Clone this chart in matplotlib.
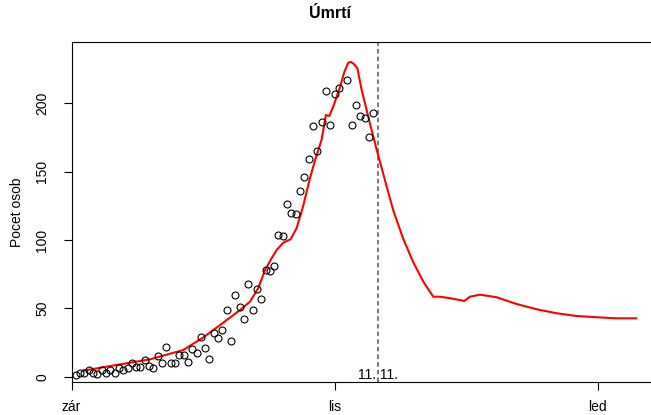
import numpy as np
import matplotlib
matplotlib.use("Agg")
import matplotlib.pyplot as plt

plt.rcParams['font.family'] = ['Liberation Sans', 'DejaVu Sans']

# dny od 1. 9. 2020
den = list(range(1, 71))
umrti = [1, 3, 3, 5, 3, 2, 5, 3, 5, 3, 6, 5, 6, 10, 7, 7, 12, 8, 6, 15,
         10, 22, 10, 10, 16, 16, 11, 20, 17, 29, 21, 13, 32, 28, 34, 49, 26, 60, 51, 42,
         68, 49, 64, 57, 78, 77, 81, 104, 103, 126, 120, 119, 136, 146, 159, 183, 165, 186, 209, 184,
         207, 211, np.nan, 217, 184, 199, 191, 189, 175, 193]

# model (cervena krivka)
model_den = [2.7, 10.5, 18.2, 25.9, 30.6, 35.2, 39.1, 41.4, 43.3, 44.9,
             46.4, 47.6, 49.1, 50.8, 52.2, 53.7, 55.3, 56.5, 58.0, 59.0,
             59.8, 60.7, 62.3, 63.3, 64.2, 64.8, 65.5, 66.3, 67.3, 69.2,
             70.8, 73.1, 74.6, 76.9, 79.2, 81.6, 83.9, 85.4, 87.8, 91.1,
             92.4, 94.7, 98.6, 103.2, 107.9, 112.5, 117.1, 121.8, 126.4, 131.0]
model = [4.4, 8.6, 12.7, 19.5, 28.8, 39.5, 48.8, 54.9, 64.7, 78.1,
         86.6, 92.7, 98.0, 100.5, 108.6, 124.4, 145.1, 158.5, 173.2, 191.4,
         190.7, 197.5, 212.1, 223.1, 229.7, 230.2, 228.7, 225.6, 209.7, 185.4,
         165.8, 139.0, 121.9, 101.2, 84.1, 69.5, 58.5, 58.5, 57.4, 55.4,
         58.5, 60.0, 58.1, 53.2, 49.3, 46.4, 44.4, 43.5, 42.7, 42.7]

mesic_pozice = [0, 61, 122]
mesic_popisky = ["zár", "lis", "led"]
den_hranice = 71  # 11. 11.

fig = plt.figure(figsize=(6.51, 4.15), dpi=100)
ax = fig.add_axes([71.5 / 651, (415 - 382.3) / 415, (651 - 71.5) / 651, (382.3 - 42) / 415])

ax.plot(model_den, model, color="red", linewidth=1.5, zorder=2)
ax.plot(den, umrti, linestyle="none", marker="o", markersize=5,
        markerfacecolor="none", markeredgecolor="black", markeredgewidth=0.8, zorder=3)
ax.axvline(den_hranice, color="#555555", linewidth=1.1, linestyle=(0, (3, 2)), zorder=1)
ax.text(den_hranice, -4.1, "11. 11.", ha="center", va="bottom", fontsize=10)

ax.set_xlim(0, 134.4)
ax.set_ylim(-4.1, 244.8)

ax.set_xticks(mesic_pozice)
ax.set_xticklabels(mesic_popisky)
ax.set_yticks([0, 50, 100, 150, 200])
ax.set_yticklabels(["0", "50", "100", "150", "200"], rotation=90, va="center")
ax.tick_params(axis="both", length=6, width=0.8, labelsize=10)
ax.tick_params(axis="x", pad=7)
ax.tick_params(axis="y", pad=10)

for s in ["left", "bottom", "top"]:
    ax.spines[s].set_linewidth(0.8)
ax.spines["right"].set_visible(False)

fig.text(17 / 651, 1 - 212 / 415, "Pocet osob", rotation=90, ha="center", va="center", fontsize=10)
fig.text(330 / 651, 1 - 14 / 415, "Úmrtí", ha="center", va="center", fontsize=11.5, fontweight="bold")

fig.savefig("out.png", dpi=100)
